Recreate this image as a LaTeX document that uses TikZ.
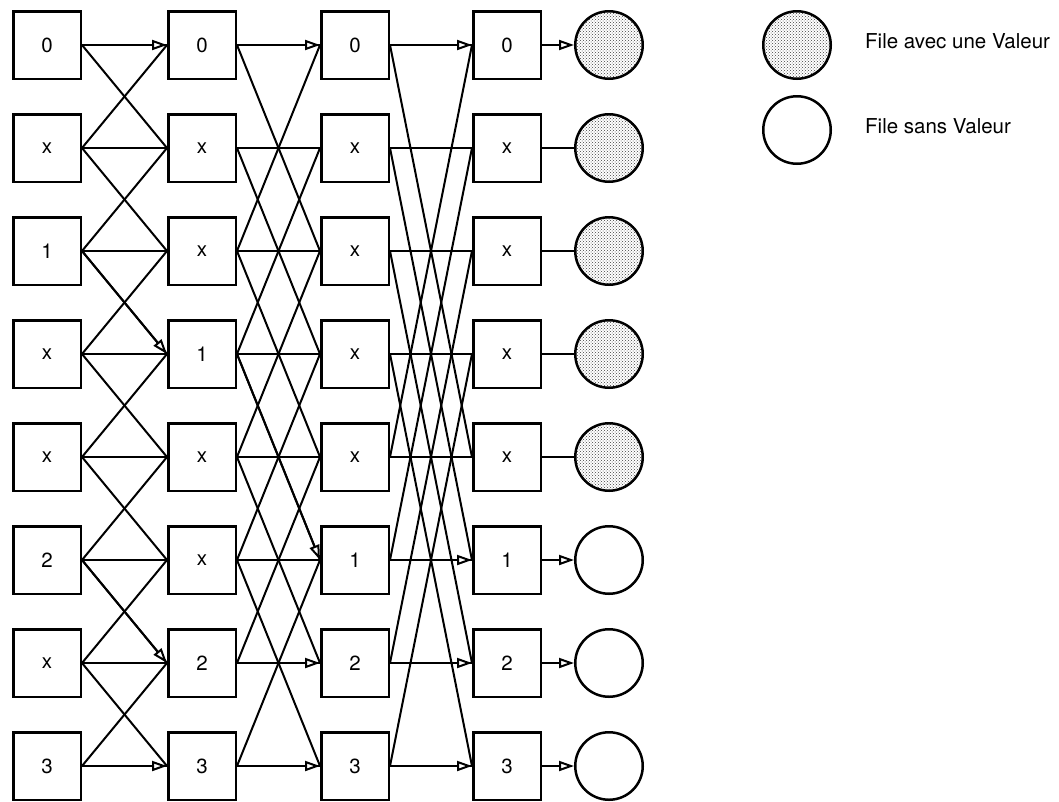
\documentclass[tikz,border=0pt]{standalone}
\usepackage{fontspec}
\setmainfont{TeX Gyre Heros}
\usetikzlibrary{arrows.meta,patterns}

\tikzset{
  cell/.style={draw,line width=2.5pt,minimum size=67.5pt,inner sep=0pt,
    font=\fontsize{20.5}{24}\selectfont},
  queue/.style={draw,circle,line width=2.5pt,minimum size=67.5pt,inner sep=0pt},
  full/.style={queue,pattern=crosshatch dots,pattern color=black!75},
  link/.style={line width=2pt},
  flow/.style={-{Triangle[fill=white,length=15pt,width=10pt]}},
  legend/.style={anchor=base west,inner sep=0pt,font=\fontsize{20.5}{24}\selectfont}
}

\begin{document}
\begin{tikzpicture}[x=1pt,y=-1pt]
\useasboundingbox (0,0) rectangle (1059,801);

% the four columns of cells
\foreach \lab [count=\i from 0] in {0,x,1,x,x,2,x,3}
  \node[cell] (a\i) at (47,{45+103*\i}) {\lab};
\foreach \lab [count=\i from 0] in {0,x,x,1,x,x,2,3}
  \node[cell] (b\i) at (202,{45+103*\i}) {\lab};
\foreach \lab [count=\i from 0] in {0,x,x,x,x,1,2,3}
  \node[cell] (c\i) at (355,{45+103*\i}) {\lab};
\foreach \lab [count=\i from 0] in {0,x,x,x,x,1,2,3}
  \node[cell] (d\i) at (507,{45+103*\i}) {\lab};

% queues at the output
\foreach \i in {0,...,4}
  \node[full] (q\i) at (609,{45+103*\i}) {};
\foreach \i in {5,6,7}
  \node[queue] (q\i) at (609,{45+103*\i}) {};

% stages: straight, up and down by 1, 2, 4
\foreach \s/\p/\n in {1/a/b,2/b/c,4/c/d}
  \foreach \i in {0,...,7}
    \foreach \d in {-1,0,1}{
      \pgfmathtruncatemacro\j{\i+\d*\s}
      \ifnum\j>-1 \ifnum\j<8 \draw[link] (\p\i.east) -- (\n\j.west); \fi\fi
    }
\foreach \i in {1,...,4}
  \draw[link] (d\i.east) -- (q\i.west);

% the paths that are taken
\foreach \p/\i/\n/\j in {a/0/b/0,a/2/b/3,a/5/b/6,a/7/b/7,
    b/0/c/0,b/3/c/5,b/6/c/6,b/7/c/7,
    c/0/d/0,c/5/d/5,c/6/d/6,c/7/d/7}
  \draw[link,flow] (\p\i.east) -- (\n\j.west);
\foreach \i in {0,5,6,7}
  \draw[link,flow] (d\i.east) -- (q\i.west);

% legend
\node[full] (k1) at (797,45) {};
\node[queue] (k2) at (797,130) {};
\node[legend] (t1) at (865,48) {File avec une Valeur};
\node[legend] (t2) at (865,133) {File sans Valeur};
\end{tikzpicture}
\end{document}
